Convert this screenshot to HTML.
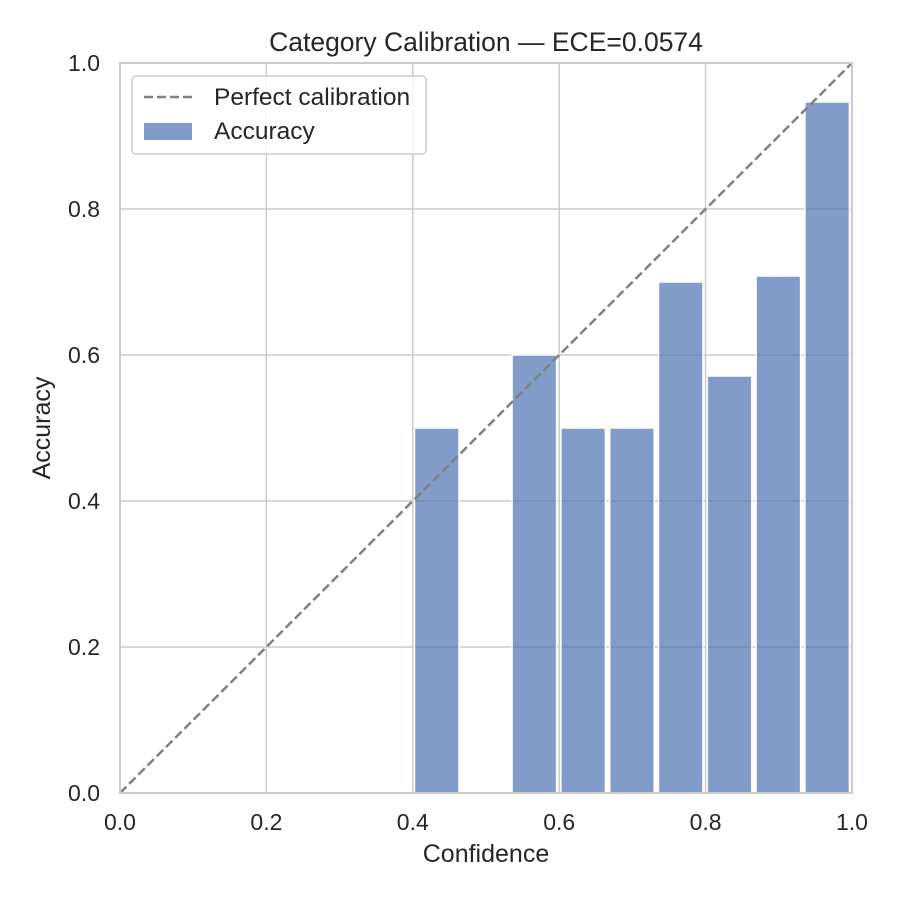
<!DOCTYPE html>
<html><head><meta charset="utf-8"><style>
html,body{margin:0;padding:0;background:#fff;}
svg{display:block;font-family:"Liberation Sans",sans-serif;}
</style></head><body>
<svg width="900" height="900" viewBox="0 0 900 900" xmlns="http://www.w3.org/2000/svg">
<rect width="900" height="900" fill="#fff"/>
<g stroke="#cccccc" stroke-width="1.5">
<line x1="266.4" y1="63" x2="266.4" y2="793"/>
<line x1="412.8" y1="63" x2="412.8" y2="793"/>
<line x1="559.2" y1="63" x2="559.2" y2="793"/>
<line x1="705.6" y1="63" x2="705.6" y2="793"/>
<line x1="120" y1="647" x2="852" y2="647"/>
<line x1="120" y1="501" x2="852" y2="501"/>
<line x1="120" y1="355" x2="852" y2="355"/>
<line x1="120" y1="209" x2="852" y2="209"/>
</g>
<g fill="#4c72b0" fill-opacity="0.7" stroke="#fff" stroke-width="1.5">
<rect x="414.5" y="428" width="44.5" height="365"/>
<rect x="512.1" y="355" width="44.5" height="438"/>
<rect x="560.9" y="428" width="44.5" height="365"/>
<rect x="609.7" y="428" width="44.5" height="365"/>
<rect x="658.5" y="282" width="44.5" height="511"/>
<rect x="707.3" y="376" width="44.5" height="417"/>
<rect x="756.1" y="276" width="44.5" height="517"/>
<rect x="804.9" y="102" width="44.5" height="691"/>
</g>
<line x1="120" y1="793" x2="852" y2="63" stroke="#808080" stroke-width="2.5" stroke-dasharray="9,4"/>
<rect x="120" y="63" width="732" height="730" fill="none" stroke="#cccccc" stroke-width="2"/>
<g font-size="23" fill="#262626" text-anchor="middle">
<text x="120" y="830">0.0</text>
<text x="266.4" y="830">0.2</text>
<text x="412.8" y="830">0.4</text>
<text x="559.2" y="830">0.6</text>
<text x="705.6" y="830">0.8</text>
<text x="852" y="830">1.0</text>
</g>
<g font-size="23" fill="#262626" text-anchor="end">
<text x="100" y="801">0.0</text>
<text x="100" y="655">0.2</text>
<text x="100" y="509">0.4</text>
<text x="100" y="363">0.6</text>
<text x="100" y="217">0.8</text>
<text x="100" y="71">1.0</text>
</g>
<text x="486" y="862" font-size="25" fill="#262626" text-anchor="middle">Confidence</text>
<text transform="translate(50,428) rotate(-90)" font-size="25" fill="#262626" text-anchor="middle">Accuracy</text>
<text x="486" y="51" font-size="26.5" fill="#262626" text-anchor="middle">Category Calibration — ECE=0.0574</text>
<rect x="132" y="76" width="294" height="78" rx="4" fill="#fff" fill-opacity="0.8" stroke="#cccccc" stroke-width="1.5"/>
<line x1="144" y1="97" x2="192" y2="97" stroke="#808080" stroke-width="2.5" stroke-dasharray="9,4"/>
<rect x="144" y="123" width="48" height="17" fill="#4c72b0" fill-opacity="0.7"/>
<text x="214" y="105" font-size="24.5" fill="#262626">Perfect calibration</text>
<text x="214" y="139" font-size="24.5" fill="#262626">Accuracy</text>
</svg>
</body></html>
